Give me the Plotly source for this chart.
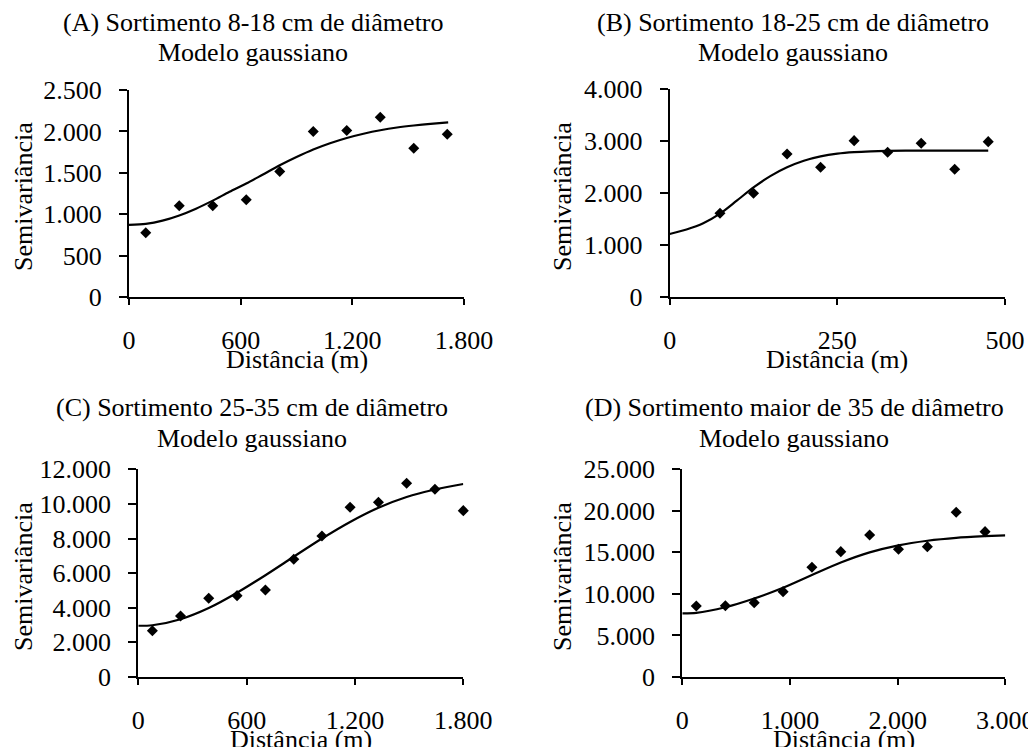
import plotly.graph_objects as go

W, H = 1036, 747
OFF = 8  # the page body adds an 8px margin; layout pixels below are page pixels

# ---------------- data ----------------
# (A) 8-18 cm
a_dist = [90, 270, 450, 630, 810, 990, 1170, 1350, 1530, 1710]
a_semi = [776, 1101, 1101, 1174, 1515, 1998, 2010, 2170, 1797, 1965]
a_model_x = [0, 90, 180, 270, 360, 450, 540, 630, 720, 810, 900, 990, 1080, 1170, 1260, 1350, 1440, 1530, 1620, 1715]
a_model_y = [870, 883, 922, 985, 1067, 1164, 1270, 1370, 1480, 1590, 1690, 1781, 1857, 1921, 1972, 2014, 2047, 2071, 2090, 2108]

# (B) 18-25 cm
b_dist = [75, 125, 175, 225, 275, 325, 375, 425, 475]
b_semi = [1612, 1997, 2754, 2498, 3011, 2787, 2960, 2459, 2992]
b_model_x = [0, 25, 50, 75, 100, 125, 150, 175, 200, 225, 250, 275, 300, 325, 375, 425, 475]
b_model_y = [1213, 1300, 1420, 1605, 1855, 2110, 2329, 2499, 2625, 2709, 2761, 2790, 2806, 2814, 2819, 2820, 2820]

# (C) 25-35 cm
c_dist = [78, 234, 390, 547, 704, 861, 1017, 1173, 1330, 1486, 1643, 1800]
c_semi = [2677, 3525, 4546, 4700, 5027, 6799, 8148, 9804, 10093, 11191, 10844, 9612]
c_model_x = [0, 78, 234, 390, 547, 704, 861, 1017, 1173, 1330, 1486, 1643, 1800]
c_model_y = [2960, 2990, 3340, 3985, 4870, 5880, 6950, 8000, 8960, 9780, 10400, 10830, 11153]

# (D) > 35 cm
d_dist = [130, 400, 668, 936, 1204, 1472, 1740, 2008, 2276, 2544, 2812]
d_semi = [8547, 8587, 8949, 10273, 13202, 15088, 17095, 15369, 15690, 19823, 17496]
d_model_x = [0, 130, 400, 668, 936, 1204, 1472, 1740, 2008, 2276, 2544, 2812, 3000]
d_model_y = [7665, 7720, 8400, 9450, 10740, 12279, 13780, 15000, 15850, 16400, 16750, 16950, 17054]

titles = ["(A) Sortimento 8-18 cm de diâmetro",
          "(B) Sortimento 18-25 cm de diâmetro",
          "(C) Sortimento 25-35 cm de diâmetro",
          "(D) Sortimento maior de 35 de diâmetro"]
subtitle = "Modelo gaussiano"
x_title = "Distância (m)"
y_title = "Semivariância"

x_ticks = [[0, 600, 1200, 1800], [0, 250, 500], [0, 600, 1200, 1800], [0, 1000, 2000, 3000]]
y_ticks = [[0, 500, 1000, 1500, 2000, 2500], [0, 1000, 2000, 3000, 4000],
           [0, 2000, 4000, 6000, 8000, 10000, 12000], [0, 5000, 10000, 15000, 20000, 25000]]

# ---------------- layout geometry (page pixels) ----------------
plot_px = [  # left, right, top, bottom
    (129, 464, 90, 297),
    (669.7, 1005, 89.3, 297),
    (138.3, 463.3, 469.3, 677),
    (682.3, 1005.3, 469.3, 677),
]
title_x = [253, 793, 252, 794]
title_y1 = [22, 22, 407, 407]
title_y2 = [53, 53, 438, 438]
ytitle_x = [23, 562, 23, 562]
ytitle_y = [197, 197, 577, 577]
xtitle_y = [359, 359, 739, 739]


def fx(p):
    return (p - OFF) / W


def fy(p):
    return 1 - (p - OFF) / H


FONT = "Liberation Serif, Times New Roman, serif"
FS = 26

series = [(a_dist, a_semi, a_model_x, a_model_y),
          (b_dist, b_semi, b_model_x, b_model_y),
          (c_dist, c_semi, c_model_x, c_model_y),
          (d_dist, d_semi, d_model_x, d_model_y)]

fig = go.Figure()
layout = dict(
    width=W, height=H,
    margin=dict(l=0, r=0, t=0, b=0, pad=0, autoexpand=False),
    paper_bgcolor="white", plot_bgcolor="white",
    showlegend=False,
    separators=",.",
    font=dict(family=FONT, size=FS, color="black"),
)
annotations = []

for i, (px, py, mx, my) in enumerate(series):
    sfx = "" if i == 0 else str(i + 1)
    xa, ya = "x" + sfx, "y" + sfx
    fig.add_trace(go.Scatter(x=mx, y=my, mode="lines", line=dict(color="black", width=2.2, shape="spline", smoothing=0.8),
                             xaxis=xa, yaxis=ya, hoverinfo="skip", cliponaxis=False))
    fig.add_trace(go.Scatter(x=px, y=py, mode="markers", marker=dict(symbol="diamond", size=8.5, color="black"),
                             xaxis=xa, yaxis=ya, cliponaxis=False))
    l, r, t, b = plot_px[i]
    layout["xaxis" + sfx] = dict(
        domain=[fx(l), fx(r)], anchor=ya, range=[x_ticks[i][0], x_ticks[i][-1]], automargin=False,
        tickvals=x_ticks[i], tickformat=",d", showline=True, linecolor="black", linewidth=2,
        ticks="outside", ticklen=6, tickwidth=2, tickcolor="black", showgrid=False, zeroline=False,
        tickfont=dict(family=FONT, size=FS, color="black"), ticklabelstandoff=13, fixedrange=True,
    )
    layout["yaxis" + sfx] = dict(
        domain=[fy(b), fy(t)], anchor=xa, range=[y_ticks[i][0], y_ticks[i][-1]], automargin=False,
        tickvals=y_ticks[i], tickformat=",d", showline=True, linecolor="black", linewidth=2,
        ticks="outside", ticklen=8, tickwidth=2, tickcolor="black", showgrid=False, zeroline=False,
        tickfont=dict(family=FONT, size=FS, color="black"), ticklabelstandoff=12, fixedrange=True,
    )
    annotations += [
        dict(text=titles[i], x=fx(title_x[i]), y=fy(title_y1[i]), xref="paper", yref="paper",
             xanchor="center", yanchor="middle", showarrow=False, font=dict(family=FONT, size=FS)),
        dict(text=subtitle, x=fx(title_x[i]), y=fy(title_y2[i]), xref="paper", yref="paper",
             xanchor="center", yanchor="middle", showarrow=False, font=dict(family=FONT, size=FS)),
        dict(text=y_title, x=fx(ytitle_x[i]), y=fy(ytitle_y[i]), xref="paper", yref="paper",
             xanchor="center", yanchor="middle", textangle=-90, showarrow=False, font=dict(family=FONT, size=FS)),
        dict(text=x_title, x=fx((l + r) / 2), y=fy(xtitle_y[i]), xref="paper", yref="paper",
             xanchor="center", yanchor="middle", showarrow=False, font=dict(family=FONT, size=FS)),
    ]

layout["annotations"] = annotations
fig.update_layout(**layout)
fig.write_html("out.html")
